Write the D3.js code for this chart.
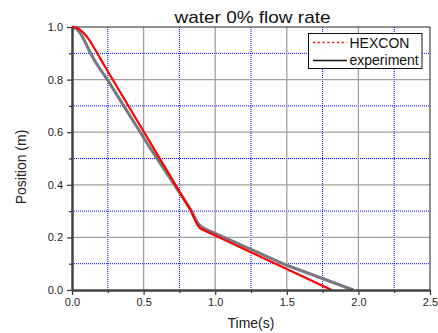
<!DOCTYPE html>
<html><head><meta charset="utf-8">
<script src="https://cdn.jsdelivr.net/npm/d3@7"></script>
<style>body{margin:0;background:#fff}svg{display:block;font-family:"Liberation Sans",Arial,sans-serif}</style>
</head><body><svg id="c" width="438" height="333"></svg>
<script>
const titleText = "water 0% flow rate";
const xLabel = "Time(s)";
const yLabel = "Position (m)";
const seriesNames = ["HEXCON", "experiment"];
const xMajor = [0, 0.5, 1.0, 1.5, 2.0, 2.5];
const xMinor = [0.25, 0.75, 1.25, 1.75, 2.25];
const yMajor = [0, 0.2, 0.4, 0.6, 0.8, 1.0];
const yMinor = [0.1, 0.3, 0.5, 0.7, 0.9];
const hexconT = [0, 0.025, 0.05, 0.075, 0.1, 0.125, 0.15, 0.175, 0.2, 0.23, 0.26, 0.83, 0.845, 0.862, 0.878, 0.894, 0.91, 1.813];
const hexconP = [1, 0.998, 0.992, 0.981, 0.966, 0.947, 0.925, 0.902, 0.878, 0.85, 0.822, 0.302, 0.282, 0.262, 0.246, 0.235, 0.23, 0];
const expT = [0, 0.03, 0.06, 0.09, 0.125, 0.16, 0.2, 0.247, 0.53, 0.836, 0.853, 0.87, 0.885, 0.9, 0.92, 0.94, 1.5, 1.965];
const expP = [1, 0.994, 0.975, 0.945, 0.905, 0.87, 0.837, 0.8, 0.553, 0.3, 0.28, 0.262, 0.25, 0.242, 0.235, 0.23, 0.094, 0];

const svg = d3.select("#c");
const L = 72, R = 430, T = 27, B = 290;
const x = d3.scaleLinear().domain([0, 2.5]).range([L, R]);
const y = d3.scaleLinear().domain([0, 1.0]).range([B, T]);

// grid
const g = svg.append("g");
g.selectAll(".gxm").data(xMinor).enter().append("line")
  .attr("x1", d => x(d)).attr("x2", d => x(d)).attr("y1", T).attr("y2", B)
  .attr("stroke", "#0000ff").attr("stroke-width", 1).attr("stroke-dasharray", "1,1");
g.selectAll(".gym").data(yMinor).enter().append("line")
  .attr("x1", L).attr("x2", R).attr("y1", d => y(d)).attr("y2", d => y(d))
  .attr("stroke", "#0000ff").attr("stroke-width", 1).attr("stroke-dasharray", "1,1");
g.selectAll(".gxM").data(xMajor.slice(1, -1)).enter().append("line")
  .attr("x1", d => x(d)).attr("x2", d => x(d)).attr("y1", T).attr("y2", B)
  .attr("stroke", "#a0a0a0").attr("stroke-width", 1.3);
g.selectAll(".gyM").data(yMajor.slice(1, -1)).enter().append("line")
  .attr("x1", L).attr("x2", R).attr("y1", d => y(d)).attr("y2", d => y(d))
  .attr("stroke", "#a0a0a0").attr("stroke-width", 1.3);

// frame top/right
svg.append("line").attr("x1", L).attr("x2", R).attr("y1", T).attr("y2", T).attr("stroke", "#222").attr("stroke-width", 1);
svg.append("line").attr("x1", R).attr("x2", R).attr("y1", T).attr("y2", B).attr("stroke", "#222").attr("stroke-width", 1);

// curves
const expData = expT.map((t, i) => [t, expP[i]]);
const hexData = hexconT.map((t, i) => [t, hexconP[i]]);
const line = d3.line().x(d => x(d[0])).y(d => y(d[1])).curve(d3.curveLinear);
svg.append("path").datum(expData).attr("d", line).attr("fill", "none").attr("stroke", "#7a7680").attr("stroke-width", 3).attr("stroke-linejoin", "round");
svg.append("path").datum(expData).attr("d", line).attr("fill", "none").attr("stroke", "#8a5fa0").attr("stroke-width", 1.2).attr("stroke-dasharray", "2,3");
svg.append("path").datum(expData).attr("d", line).attr("fill", "none").attr("stroke", "#5f9a5f").attr("stroke-width", 1.2).attr("stroke-dasharray", "2,3").attr("stroke-dashoffset", 2.5);
svg.append("path").datum(hexData).attr("d", line).attr("fill", "none").attr("stroke", "#ff0000").attr("stroke-width", 2.2).attr("stroke-linejoin", "round");

// axes
const fmt = d3.format(".1f");
const ax = svg.append("g").attr("transform", `translate(0,${B})`)
  .call(d3.axisBottom(x).tickValues(xMajor).tickFormat(fmt).tickSize(5).tickSizeOuter(0).tickPadding(3));
const axm = svg.append("g").attr("transform", `translate(0,${B})`)
  .call(d3.axisBottom(x).tickValues(xMinor).tickFormat("").tickSize(3).tickSizeOuter(0));
const ay = svg.append("g").attr("transform", `translate(${L},0)`)
  .call(d3.axisLeft(y).tickValues(yMajor).tickFormat(fmt).tickSize(5).tickSizeOuter(0).tickPadding(4));
const aym = svg.append("g").attr("transform", `translate(${L},0)`)
  .call(d3.axisLeft(y).tickValues(yMinor).tickFormat("").tickSize(3).tickSizeOuter(0));
[ax, axm, ay, aym].forEach(a => {
  a.select(".domain").attr("stroke", "#444").attr("stroke-width", 2);
  a.selectAll(".tick line").attr("stroke", "#333").attr("stroke-width", 1.2);
  a.selectAll(".tick text").attr("fill", "#222").style("font-size", "11px").style("font-family", '"Liberation Sans",Arial,sans-serif');
});

// title & labels
svg.append("text").attr("x", 252.5).attr("y", 22.5).attr("text-anchor", "middle")
  .attr("textLength", 156).attr("lengthAdjust", "spacingAndGlyphs")
  .style("font-size", "17px").attr("fill", "#111").text(titleText);
svg.append("text").attr("x", 251).attr("y", 328).attr("text-anchor", "middle")
  .style("font-size", "14px").attr("fill", "#222").text(xLabel);
svg.append("text").attr("transform", "translate(26,167) rotate(-90)").attr("text-anchor", "middle")
  .style("font-size", "14px").attr("fill", "#222").text(yLabel);

// legend
const lg = svg.append("g");
lg.append("rect").attr("x", 308.5).attr("y", 33.5).attr("width", 113.5).attr("height", 35)
  .attr("fill", "#fff").attr("stroke", "#111").attr("stroke-width", 1);
lg.append("line").attr("x1", 313).attr("x2", 347).attr("y1", 42.5).attr("y2", 42.5)
  .attr("stroke", "#ff0000").attr("stroke-width", 1.5).attr("stroke-dasharray", "2,2.8");
lg.append("line").attr("x1", 313).attr("x2", 347).attr("y1", 60.5).attr("y2", 60.5)
  .attr("stroke", "#111").attr("stroke-width", 1.3);
lg.append("text").attr("x", 349.5).attr("y", 47.5).style("font-size", "14px").attr("fill", "#111").text(seriesNames[0]);
lg.append("text").attr("x", 349.5).attr("y", 65).style("font-size", "14px").attr("fill", "#111").text(seriesNames[1]);
</script></body></html>
